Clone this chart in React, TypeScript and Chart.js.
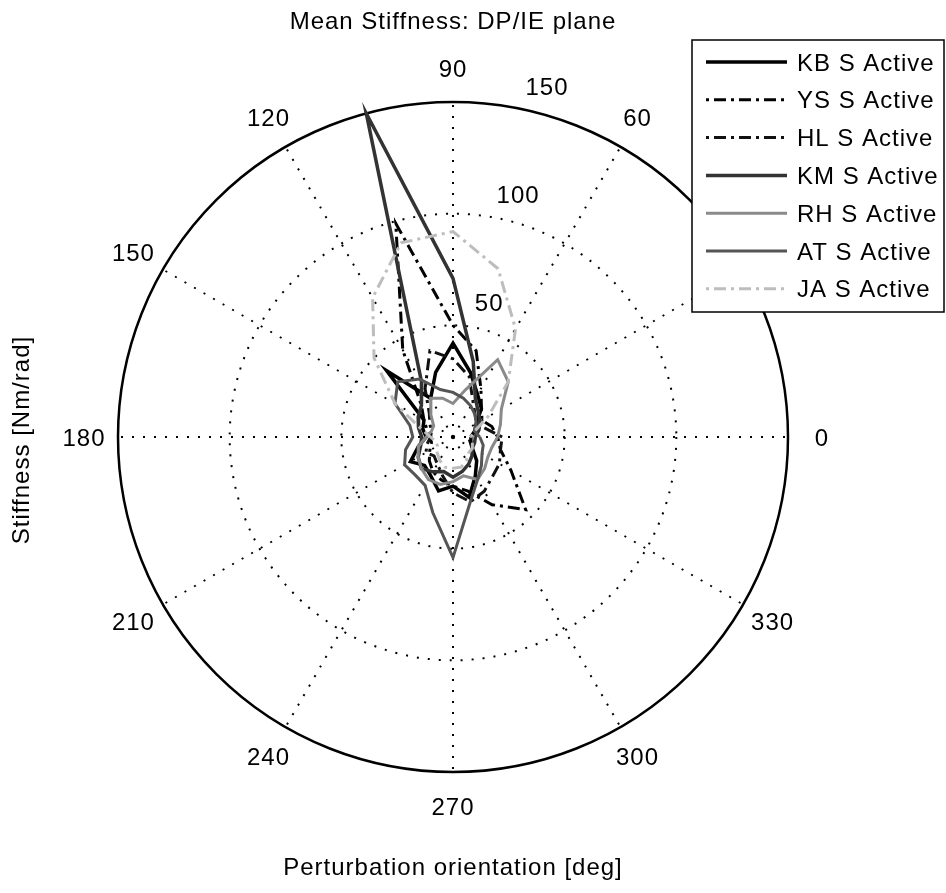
import React, { useEffect, useRef } from "react";
import { Chart, registerables } from "chart.js";
Chart.register(...registerables);

// Perturbation orientations (deg), sampled every 15 degrees
const angles = [0, 15, 30, 45, 60, 75, 90, 105, 120, 135, 150, 165, 180, 195, 210, 225, 240, 255, 270, 285, 300, 315, 330, 345];

const seriesNames = ["KB S Active", "YS S Active", "HL S Active", "KM S Active", "RH S Active", "AT S Active", "JA S Active"];

// Stiffness [Nm/rad] per orientation
const kbValues = [8, 10, 12, 18, 22, 30, 42, 30, 20, 42, 15, 14, 12, 16, 22, 18, 20, 25, 22, 28, 20, 15, 10, 8];
const ysValues = [20, 18, 15, 18, 25, 40, 50, 99, 45, 20, 15, 12, 10, 10, 12, 15, 18, 20, 22, 25, 35, 46, 30, 22];
const hlValues = [22, 15, 12, 14, 18, 28, 35, 40, 25, 15, 12, 10, 10, 12, 14, 12, 14, 18, 25, 30, 28, 25, 24, 22];
const kmValues = [10, 12, 14, 16, 20, 35, 71, 150, 28, 20, 18, 16, 14, 15, 18, 20, 18, 16, 18, 16, 14, 12, 10, 10];
const rhValues = [20, 22, 25, 35, 40, 22, 15, 18, 20, 14, 10, 10, 12, 16, 18, 20, 22, 22, 20, 18, 22, 20, 18, 18];
const atValues = [12, 10, 12, 14, 16, 18, 20, 22, 30, 35, 30, 20, 18, 22, 25, 24, 25, 35, 54, 30, 22, 18, 15, 14];
const jaValues = [8, 10, 18, 35, 56, 78, 92, 90, 72, 50, 30, 15, 10, 8, 8, 10, 12, 14, 14, 14, 12, 10, 10, 9];

const ringValues = [50, 100, 150];
const angleTicks = [0, 30, 60, 90, 120, 150, 180, 210, 240, 270, 300, 330];
const rMax = 150;

const seriesColors = ["#000000", "#000000", "#111111", "#333333", "#8a8a8a", "#555555", "#bdbdbd"];
const dashDot = [3, 5, 12, 5];
const seriesDashes = [[], dashDot, dashDot, [], [], [], dashDot];
const seriesWidths = [3.5, 3, 3, 3.5, 3, 3, 3];

const FONT = "'Liberation Sans', Arial, Helvetica, sans-serif";

function toXY(vals: number[]) {
  const pts = vals.map((r, i) => ({
    x: r * Math.cos((angles[i] * Math.PI) / 180),
    y: r * Math.sin((angles[i] * Math.PI) / 180),
  }));
  pts.push(pts[0]);
  return pts;
}

function setFont(ctx: any, size: number) {
  ctx.font = `${size}px ${FONT}`;
  try {
    ctx.letterSpacing = "1px";
  } catch (e) {}
}

// draw text whose cap-height middle is at y
function capText(ctx: any, s: string, x: number, y: number, cap: number) {
  ctx.textBaseline = "alphabetic";
  ctx.fillText(s, x, y + cap / 2);
}

const polarPlugin = {
  id: "polarDecor",
  beforeDatasetsDraw(chart: any) {
    const ctx = chart.ctx;
    const xs = chart.scales.x;
    const ys = chart.scales.y;
    const cx = xs.getPixelForValue(0);
    const cy = ys.getPixelForValue(0);
    const R = xs.getPixelForValue(rMax) - cx;
    ctx.save();
    ctx.strokeStyle = "#000";
    ctx.lineWidth = 2;
    ctx.setLineDash([2, 9]);
    ringValues.slice(0, -1).forEach((v) => {
      const r = xs.getPixelForValue(v) - cx;
      ctx.beginPath();
      ctx.arc(cx, cy, r, 0, Math.PI * 2);
      ctx.stroke();
    });
    angleTicks.forEach((a) => {
      const t = (a * Math.PI) / 180;
      ctx.beginPath();
      ctx.moveTo(cx, cy);
      ctx.lineTo(cx + R * Math.cos(t), cy - R * Math.sin(t));
      ctx.stroke();
    });
    ctx.setLineDash([]);
    ctx.lineWidth = 2.5;
    ctx.beginPath();
    ctx.arc(cx, cy, R, 0, Math.PI * 2);
    ctx.stroke();
    ctx.fillStyle = "#000";
    setFont(ctx, 24);
    ctx.textAlign = "center";
    angleTicks.forEach((a) => {
      const t = (a * Math.PI) / 180;
      const lr = R + 34;
      capText(ctx, String(a), cx + lr * Math.cos(t), cy - lr * Math.sin(t), 17);
    });
    const ra = (75 * Math.PI) / 180;
    ringValues.forEach((v) => {
      const r = xs.getPixelForValue(v) - cx + 28;
      capText(ctx, String(v), cx + r * Math.cos(ra), cy - r * Math.sin(ra), 17);
    });
    ctx.restore();
  },
  afterDraw(chart: any) {
    const ctx = chart.ctx;
    const xs = chart.scales.x;
    const cx = xs.getPixelForValue(0);
    const cy = chart.scales.y.getPixelForValue(0);
    ctx.save();
    ctx.fillStyle = "#000";
    setFont(ctx, 24);
    ctx.textAlign = "center";
    capText(ctx, "Mean Stiffness: DP/IE plane", cx, 20, 17);
    capText(ctx, "Perturbation orientation [deg]", cx, 866, 17);
    ctx.save();
    ctx.translate(20, cy + 3);
    ctx.rotate(-Math.PI / 2);
    capText(ctx, "Stiffness [Nm/rad]", 0, 0, 17);
    ctx.restore();
    // legend
    const bx = 692, by = 40, bw = 252, bh = 272;
    ctx.fillStyle = "#fff";
    ctx.fillRect(bx, by, bw, bh);
    ctx.strokeStyle = "#000";
    ctx.lineWidth = 1.5;
    ctx.strokeRect(bx, by, bw, bh);
    chart.data.datasets.forEach((ds: any, i: number) => {
      const y = 62 + i * 37.8;
      ctx.strokeStyle = ds.borderColor;
      ctx.lineWidth = ds.borderWidth;
      ctx.setLineDash(ds.borderDash || []);
      ctx.beginPath();
      ctx.moveTo(706, y);
      ctx.lineTo(787, y);
      ctx.stroke();
      ctx.setLineDash([]);
      ctx.fillStyle = "#000";
      ctx.textAlign = "left";
      capText(ctx, ds.label, 797, y, 17);
    });
    ctx.restore();
  },
};

export default function App() {
  const ref = useRef<HTMLCanvasElement | null>(null);
  useEffect(() => {
    if (!ref.current) return;
    const allValues = [kbValues, ysValues, hlValues, kmValues, rhValues, atValues, jaValues];
    const chart = new Chart(ref.current, {
      type: "scatter",
      data: {
        datasets: allValues.map((vals, i) => ({
          label: seriesNames[i],
          data: toXY(vals),
          showLine: true,
          borderColor: seriesColors[i],
          backgroundColor: seriesColors[i],
          borderWidth: seriesWidths[i],
          borderDash: seriesDashes[i],
          pointRadius: 0,
          tension: 0,
          fill: false,
          clip: false as any,
          order: allValues.length - i,
        })),
      },
      options: {
        responsive: false,
        animation: false,
        layout: { padding: { left: 118, right: 158, top: 102, bottom: 121 } },
        scales: {
          x: { type: "linear", min: -rMax, max: rMax, display: false },
          y: { type: "linear", min: -rMax, max: rMax, display: false },
        },
        plugins: { legend: { display: false }, tooltip: { enabled: false }, title: { display: false } },
      },
      plugins: [polarPlugin],
    });
    return () => chart.destroy();
  }, []);
  return (
    <div style={{ position: "absolute", left: 0, top: 0, width: 946, height: 893, background: "#fff" }}>
      <canvas ref={ref} width={946} height={893} style={{ width: 946, height: 893, display: "block" }} />
    </div>
  );
}
